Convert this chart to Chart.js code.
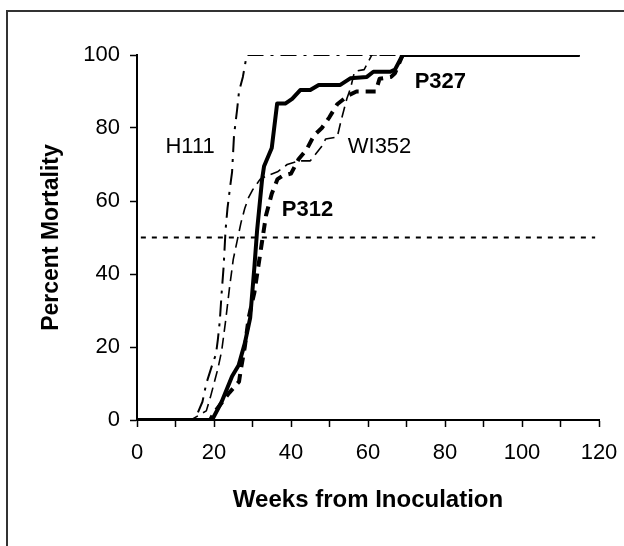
<!DOCTYPE html>
<html>
<head>
<meta charset="utf-8">
<script src="https://cdn.jsdelivr.net/npm/chart.js@4.4.1/dist/chart.umd.min.js"></script>
<style>
html,body{margin:0;padding:0;background:#fff;}
#wrap{width:624px;height:546px;position:relative;overflow:hidden;}
</style>
</head>
<body>
<div id="wrap"><canvas id="c" width="624" height="546"></canvas></div>
<script>
// ---- data ----
const h111Weeks     = [0, 15, 17, 18, 19.5, 20.5, 21, 21.5, 22, 22.5, 23, 23.5, 24.2, 24.7, 25.2, 26, 26.5, 27.5, 28.5, 115];
const h111Mortality = [0, 0, 5, 10, 15, 18, 22, 27, 35, 42, 52, 58, 64, 68, 78, 85, 90, 94, 100, 100];

const wi352Weeks     = [0, 14, 18, 19, 20, 21, 22, 23, 24, 25, 26, 27, 28, 29, 30, 32, 34, 36.5, 39, 42, 45, 48, 49, 52, 53, 54.5, 55.5, 56.5, 59, 60, 61, 115];
const wi352Mortality = [0, 0, 2.5, 6, 10, 14, 19, 27, 36, 44, 49, 54, 58, 61, 63, 66, 67, 68, 70, 71, 71, 75, 77, 77.5, 82, 88, 91, 95.5, 96, 98, 100, 100];

const p312Weeks     = [0, 19, 20, 24, 26.5, 27, 28, 29, 30.5, 31.5, 32.5, 33.5, 35, 36.5, 38, 40, 42, 44, 46, 48, 50, 52, 55, 57, 62, 63, 66, 67, 69, 115];
const p312Mortality = [0, 0, 2, 7.5, 10.5, 14, 20, 28, 35, 42, 49, 56, 62, 66, 67, 67.5, 71.5, 74, 78, 80, 83, 86.5, 89, 90, 90, 93.5, 94, 95, 100, 100];

const p327Weeks     = [0, 19.5, 22, 24.7, 26.4, 28, 29.4, 30.5, 31.2, 32.5, 33, 35, 36.4, 38.5, 40.3, 42.4, 45, 47.2, 52.8, 55.4, 59.7, 61.4, 65.8, 67, 69, 115];
const p327Mortality = [0, 0, 5, 12, 15, 21, 28, 42, 52, 66, 69.5, 74.5, 86.7, 86.7, 88, 90.4, 90.4, 91.8, 91.8, 93.6, 94, 95.4, 95.4, 96, 100, 100];

const refWeeks     = [1, 119];
const refMortality = [50, 50];

const xTickLabels = [0, 20, 40, 60, 80, 100, 120];
const yTickLabels = [0, 20, 40, 60, 80, 100];

const seriesLabels = ['H111', 'WI352', 'P312', 'P327'];
const labelWeeks     = [13.8, 63, 44.3, 78.8];
const labelMortality = [74.7, 74.7, 57.6, 92.7];
const labelBold      = [false, false, true, true];

// ---- build ----
const pts = (xs, ys) => xs.map((x, i) => ({x: x, y: ys[i]}));
const FONT = "'Liberation Sans', Arial, sans-serif";

const framePlugin = {
  id: 'frame',
  beforeDraw(chart) {
    const ctx = chart.ctx;
    ctx.save();
    ctx.fillStyle = '#fff';
    ctx.fillRect(0, 0, chart.width, chart.height);
    ctx.strokeStyle = '#333';
    ctx.lineWidth = 2;
    ctx.beginPath();
    ctx.moveTo(7, chart.height + 10);
    ctx.lineTo(7, 11);
    ctx.lineTo(chart.width + 10, 11);
    ctx.stroke();
    ctx.restore();
  }
};

const labelPlugin = {
  id: 'seriesLabels',
  afterDatasetsDraw(chart) {
    const ctx = chart.ctx;
    const xs = chart.scales.x, ys = chart.scales.y;
    ctx.save();
    ctx.fillStyle = '#000';
    ctx.textAlign = 'center';
    ctx.textBaseline = 'middle';
    seriesLabels.forEach((t, i) => {
      ctx.font = (labelBold[i] ? 'bold ' : '') + '22px ' + FONT;
      ctx.fillText(t, xs.getPixelForValue(labelWeeks[i]), ys.getPixelForValue(labelMortality[i]));
    });
    ctx.restore();
  }
};

const common = {pointRadius: 0, pointHoverRadius: 0, tension: 0, fill: false, borderColor: '#000', borderJoinStyle: 'round'};

new Chart(document.getElementById('c'), {
  type: 'line',
  data: {
    datasets: [
      Object.assign({label: '50%', data: pts(refWeeks, refMortality), borderWidth: 2.2, borderDash: [5, 6]}, common),
      Object.assign({label: 'H111', data: pts(h111Weeks, h111Mortality), borderWidth: 2, borderDash: [16, 7, 3, 7]}, common),
      Object.assign({label: 'WI352', data: pts(wi352Weeks, wi352Mortality), borderWidth: 1.6, borderDash: [11, 6]}, common),
      Object.assign({label: 'P312', data: pts(p312Weeks, p312Mortality), borderWidth: 4, borderDash: [10, 7]}, common),
      Object.assign({label: 'P327', data: pts(p327Weeks, p327Mortality), borderWidth: 4}, common)
    ]
  },
  options: {
    responsive: false,
    animation: false,
    devicePixelRatio: 1,
    layout: {padding: {left: 0, top: 55, right: 25, bottom: 0}},
    plugins: {legend: {display: false}, tooltip: {enabled: false}},
    scales: {
      x: {
        type: 'linear', min: 0, max: 120,
        afterFit: s => { s.height = 126; s.paddingLeft = 0; s.paddingRight = 0; },
        afterBuildTicks: s => { s.ticks = [0,10,20,30,40,50,60,70,80,90,100,110,120].map(v => ({value: v})); },
        ticks: {
          autoSkip: false, maxRotation: 0, padding: 13, color: '#000',
          font: {family: FONT, size: 22},
          callback: v => (xTickLabels.includes(v) ? String(v) : '')
        },
        grid: {drawOnChartArea: false, drawTicks: true, tickLength: 7, color: '#000', tickWidth: 1.5},
        border: {display: true, color: '#000', width: 2},
        title: {display: true, text: 'Weeks from Inoculation', color: '#000', font: {family: FONT, size: 24, weight: 'bold'}, padding: {top: 0, bottom: 31}}
      },
      y: {
        type: 'linear', min: 0, max: 100,
        afterFit: s => { s.width = 137; },
        afterBuildTicks: s => { s.ticks = yTickLabels.map(v => ({value: v})); },
        ticks: {padding: 10, color: '#000', font: {family: FONT, size: 22}},
        grid: {drawOnChartArea: false, drawTicks: true, tickLength: 7, color: '#000', tickWidth: 1.5},
        border: {display: true, color: '#000', width: 2},
        title: {display: true, text: 'Percent Mortality', color: '#000', font: {family: FONT, size: 23, weight: 'bold'}, padding: {top: 38, bottom: 0}}
      }
    }
  },
  plugins: [framePlugin, labelPlugin]
});
</script>
</body>
</html>
